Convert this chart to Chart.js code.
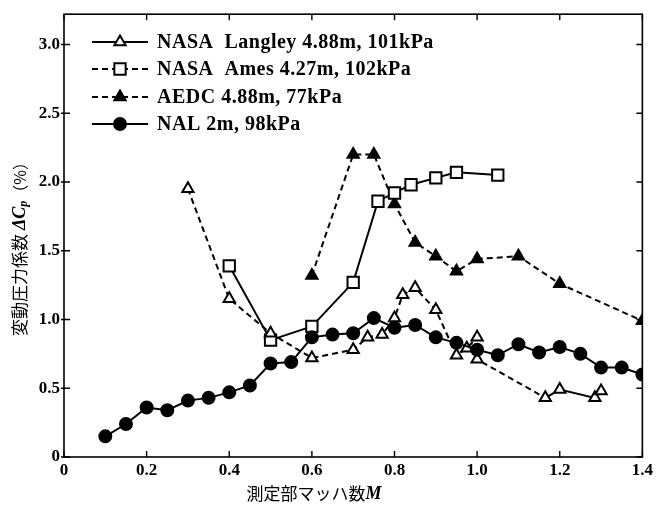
<!DOCTYPE html>
<html>
<head>
<meta charset="utf-8">
<script src="https://cdn.jsdelivr.net/npm/chart.js@4.4.0/dist/chart.umd.min.js"></script>
<style>
  html, body { margin: 0; padding: 0; background: #fff; }
  #wrap { width: 656px; height: 506px; }
</style>
</head>
<body>
<div id="wrap"><canvas id="cpChart" width="656" height="506"></canvas></div>
<script>
// axis ticks
const xTicks = [0, 0.2, 0.4, 0.6, 0.8, 1.0, 1.2, 1.4];
const yTicks = [0, 0.5, 1.0, 1.5, 2.0, 2.5, 3.0];

// NASA Langley 4.88m, 101kPa
const machLangley = [0.3, 0.4, 0.5, 0.6, 0.7, 0.735, 0.77, 0.8, 0.82, 0.85, 0.9, 0.95, 0.975, 1.0, 1.0, 1.165, 1.2, 1.285, 1.3];
const cpLangley   = [1.95, 1.15, 0.9, 0.72, 0.78, 0.87, 0.89, 1.01, 1.18, 1.23, 1.07, 0.74, 0.79, 0.87, 0.71, 0.43, 0.49, 0.43, 0.48];

// NASA Ames 4.27m, 102kPa
const machAmes = [0.4, 0.5, 0.6, 0.7, 0.76, 0.8, 0.84, 0.9, 0.95, 1.05];
const cpAmes   = [1.39, 0.85, 0.95, 1.27, 1.86, 1.92, 1.98, 2.03, 2.07, 2.05];

// AEDC 4.88m, 77kPa
const machAEDC = [0.6, 0.7, 0.75, 0.8, 0.85, 0.9, 0.95, 1.0, 1.1, 1.2, 1.4];
const cpAEDC   = [1.32, 2.2, 2.2, 1.84, 1.56, 1.46, 1.35, 1.44, 1.46, 1.26, 0.99];

// NAL 2m, 98kPa
const machNAL = [0.1, 0.15, 0.2, 0.25, 0.3, 0.35, 0.4, 0.45, 0.5, 0.55, 0.6, 0.65, 0.7, 0.75, 0.8, 0.85, 0.9, 0.95, 1.0, 1.05, 1.1, 1.15, 1.2, 1.25, 1.3, 1.35, 1.4];
const cpNAL   = [0.15, 0.24, 0.36, 0.34, 0.41, 0.43, 0.47, 0.52, 0.68, 0.69, 0.87, 0.89, 0.9, 1.01, 0.94, 0.96, 0.87, 0.83, 0.78, 0.74, 0.82, 0.76, 0.8, 0.75, 0.65, 0.65, 0.6];

const seriesNames = [
  'NASA  Langley 4.88m, 101kPa',
  'NASA  Ames 4.27m, 102kPa',
  'AEDC 4.88m, 77kPa',
  'NAL 2m, 98kPa'
];

const SERIF = "'Liberation Serif', 'DejaVu Serif', serif";
const CJK = "'Noto Sans CJK JP', sans-serif";
const DASH = [6, 4];

const toPoints = (xs, ys) => xs.map((x, i) => ({ x, y: ys[i] }));

const baseSet = {
  borderColor: '#000',
  borderWidth: 2,
  pointBorderColor: '#000',
  pointBorderWidth: 2,
  fill: false,
  tension: 0
};

const datasets = [
  {
    ...baseSet,
    label: seriesNames[3],
    data: toPoints(machNAL, cpNAL),
    pointStyle: 'circle',
    pointRadius: 6,
    pointBackgroundColor: '#000',
    legendDash: []
  },
  {
    ...baseSet,
    label: seriesNames[0],
    data: toPoints(machLangley, cpLangley),
    borderDash: DASH,
    segment: { borderDash: c => (c.p0DataIndex >= 15 ? [] : DASH) },
    pointStyle: 'triangle',
    pointRadius: 6.5,
    pointBackgroundColor: '#fff',
    legendDash: []
  },
  {
    ...baseSet,
    label: seriesNames[1],
    data: toPoints(machAmes, cpAmes),
    pointStyle: 'rect',
    pointRadius: 8,
    pointBackgroundColor: '#fff',
    legendDash: DASH
  },
  {
    ...baseSet,
    label: seriesNames[2],
    data: toPoints(machAEDC, cpAEDC),
    borderDash: DASH,
    pointStyle: 'triangle',
    pointRadius: 6.5,
    pointBackgroundColor: '#000',
    legendDash: DASH
  }
];

// frame round the plot with inward tick marks on all four sides
const framePlugin = {
  id: 'frame',
  afterDatasetsDraw(chart) {
    const { ctx, chartArea: a, scales } = chart;
    ctx.save();
    ctx.strokeStyle = '#000';
    ctx.lineWidth = 1.6;
    ctx.strokeRect(a.left, a.top, a.right - a.left, a.bottom - a.top);
    ctx.lineWidth = 1.4;
    ctx.beginPath();
    xTicks.forEach(v => {
      const px = scales.x.getPixelForValue(v);
      ctx.moveTo(px, a.bottom); ctx.lineTo(px, a.bottom - 6);
      ctx.moveTo(px, a.top); ctx.lineTo(px, a.top + 6);
    });
    yTicks.forEach(v => {
      const py = scales.y.getPixelForValue(v);
      ctx.moveTo(a.left - 3, py); ctx.lineTo(a.left + 6, py);
      ctx.moveTo(a.right, py); ctx.lineTo(a.right - 6, py);
    });
    ctx.stroke();
    ctx.restore();
  }
};

// legend rows: line sample with the marker in its middle, then the label
const legendPlugin = {
  id: 'lineLegend',
  afterDatasetsDraw(chart) {
    const { ctx } = chart;
    const order = [1, 2, 3, 0];
    const rowY = [42, 69, 97, 124];
    ctx.save();
    order.forEach((di, row) => {
      const ds = chart.data.datasets[di];
      const y = rowY[row];
      ctx.strokeStyle = '#000';
      ctx.lineWidth = 2;
      ctx.setLineDash(ds.legendDash);
      ctx.beginPath();
      ctx.moveTo(92, y);
      ctx.lineTo(148, y);
      ctx.stroke();
      ctx.setLineDash([]);
      ctx.fillStyle = ds.pointBackgroundColor;
      ctx.lineWidth = ds.pointBorderWidth;
      Chart.helpers.drawPoint(ctx, {
        pointStyle: ds.pointStyle,
        radius: ds.pointRadius,
        rotation: 0,
        borderWidth: ds.pointBorderWidth
      }, 120, y);
      ctx.fillStyle = '#000';
      ctx.font = 'bold 20px ' + SERIF;
      ctx.letterSpacing = '0.5px';
      ctx.textAlign = 'left';
      ctx.textBaseline = 'middle';
      ctx.fillText(ds.label, 157, y + 1);
      ctx.letterSpacing = '0px';
    });
    ctx.restore();
  }
};

function drawRuns(ctx, runs, cx, cy) {
  let total = 0;
  runs.forEach(r => { ctx.font = r.font; total += ctx.measureText(r.text).width; });
  let x = cx - total / 2;
  runs.forEach(r => {
    ctx.font = r.font;
    ctx.fillText(r.text, x, cy + (r.dy || 0));
    x += ctx.measureText(r.text).width;
  });
}

// axis titles with mixed CJK / italic symbol runs
const titlePlugin = {
  id: 'axisTitles',
  afterDraw(chart) {
    const { ctx } = chart;
    ctx.save();
    ctx.fillStyle = '#000';
    ctx.textAlign = 'left';
    ctx.textBaseline = 'middle';
    drawRuns(ctx, [
      { text: '測定部マッハ数', font: '17px ' + CJK },
      { text: 'M', font: 'italic bold 18px ' + SERIF }
    ], 314, 494);
    ctx.translate(20, 245);
    ctx.rotate(-Math.PI / 2);
    drawRuns(ctx, [
      { text: '変動圧力係数 ', font: '17px ' + CJK },
      { text: 'ΔC', font: 'italic bold 18px ' + SERIF },
      { text: 'p', font: 'italic bold 12px ' + SERIF, dy: 4 },
      { text: '（%）', font: '16px ' + CJK }
    ], 0, 0);
    ctx.restore();
  }
};

const tickFont = { family: SERIF, size: 17, weight: 'bold' };
const fmt = v => (v === 0 ? '0' : v.toFixed(1));

new Chart(document.getElementById('cpChart').getContext('2d'), {
  type: 'line',
  data: { datasets },
  options: {
    responsive: false,
    animation: false,
    devicePixelRatio: 1,
    layout: { padding: { top: 12, right: 9, left: 0, bottom: 0 } },
    plugins: {
      legend: { display: false },
      tooltip: { enabled: false }
    },
    scales: {
      x: {
        type: 'linear',
        min: 0,
        max: 1.4,
        grid: { display: false, drawTicks: false },
        border: { display: false },
        afterBuildTicks: s => { s.ticks = xTicks.map(value => ({ value })); },
        afterFit: s => { s.height = 49; },
        ticks: { font: tickFont, color: '#000', padding: 3, maxRotation: 0, callback: fmt }
      },
      y: {
        type: 'linear',
        min: 0,
        max: 3.22,
        grid: { display: false, drawTicks: false },
        border: { display: false },
        afterBuildTicks: s => { s.ticks = yTicks.map(value => ({ value })); },
        afterFit: s => { s.width = 64; },
        ticks: { font: tickFont, color: '#000', padding: 4, callback: fmt }
      }
    }
  },
  plugins: [framePlugin, legendPlugin, titlePlugin]
});
</script>
</body>
</html>
